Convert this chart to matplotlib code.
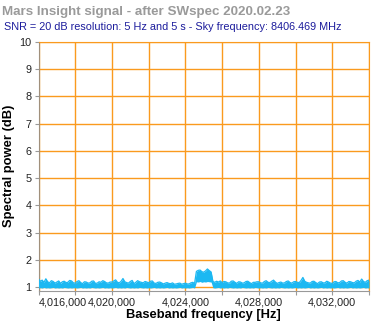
import numpy as np
import matplotlib
matplotlib.use("Agg")
import matplotlib.pyplot as plt
from matplotlib.transforms import ScaledTranslation

plt.rcParams['font.family'] = ['Liberation Sans', 'DejaVu Sans']

# Spectrum in 100 Hz bins from 4,016,000 Hz:
# top and bottom of the dense 5 Hz trace within each bin
freq_start = 4016000
freq_step = 100
peak_db = [
    1.30, 1.22, 1.26, 1.18, 1.31, 1.20, 1.16, 1.24, 1.21, 1.15, 1.19, 1.23, 1.14, 1.20, 1.22, 1.17, 1.18, 1.25, 1.23, 1.16,
    1.15, 1.21, 1.24, 1.17, 1.13, 1.20, 1.19, 1.15, 1.16, 1.22, 1.23, 1.14, 1.15, 1.20, 1.18, 1.24, 1.21, 1.16, 1.15, 1.19,
    1.19, 1.23, 1.27, 1.18, 1.16, 1.22, 1.32, 1.20, 1.17, 1.15, 1.21, 1.25, 1.13, 1.18, 1.24, 1.20, 1.18, 1.16, 1.21, 1.19,
    1.16, 1.22, 1.23, 1.15, 1.14, 1.18, 1.19, 1.16, 1.12, 1.15, 1.17, 1.14, 1.13, 1.16, 1.11, 1.12, 1.14, 1.15, 1.11, 1.13,
    1.15, 1.12, 1.12, 1.16, 1.18, 1.14, 1.58, 1.62, 1.63, 1.57, 1.55, 1.60, 1.67, 1.61, 1.56, 1.21, 1.18, 1.22, 1.19, 1.23,
    1.17, 1.21, 1.20, 1.16, 1.15, 1.22, 1.23, 1.18, 1.14, 1.20, 1.19, 1.15, 1.16, 1.21, 1.22, 1.17, 1.13, 1.18, 1.18, 1.20,
    1.20, 1.16, 1.15, 1.21, 1.24, 1.18, 1.17, 1.22, 1.26, 1.19, 1.14, 1.17, 1.19, 1.15, 1.16, 1.21, 1.23, 1.17, 1.15, 1.20,
    1.21, 1.18, 1.17, 1.25, 1.36, 1.22, 1.18, 1.16, 1.15, 1.21, 1.22, 1.17, 1.13, 1.19, 1.20, 1.16, 1.16, 1.22, 1.19, 1.15,
    1.14, 1.20, 1.21, 1.16, 1.17, 1.23, 1.24, 1.18, 1.15, 1.21, 1.20, 1.17, 1.16, 1.22, 1.25, 1.19, 1.30, 1.21, 1.18, 1.24,
    1.26,
]
floor_db = [
    0.97, 0.98, 0.97, 0.99, 0.97, 0.98, 0.97, 0.98, 0.99, 0.97, 0.98, 0.97, 0.98, 0.97, 0.99, 0.98, 0.97, 0.98, 0.97, 0.98,
    0.98, 0.97, 0.98, 0.99, 0.97, 0.98, 0.97, 0.98, 0.97, 0.99, 0.98, 0.97, 0.98, 0.97, 0.98, 0.99, 0.97, 0.98, 0.97, 0.98,
    0.97, 0.98, 0.99, 0.97, 0.98, 0.97, 0.98, 0.97, 0.99, 0.98, 0.97, 0.98, 0.97, 0.98, 0.97, 0.99, 0.98, 0.97, 0.98, 0.97,
    0.98, 0.97, 0.98, 0.99, 0.97, 0.98, 0.97, 0.98, 0.97, 0.98, 0.99, 0.97, 0.98, 0.97, 0.98, 0.97, 0.98, 0.99, 0.97, 0.98,
    0.97, 0.98, 0.97, 0.98, 0.99, 0.97, 1.20, 1.19, 1.21, 1.18, 1.20, 1.19, 1.21, 1.20, 1.19, 0.98, 0.97, 0.98, 0.99, 0.97,
    0.98, 0.97, 0.98, 0.97, 0.99, 0.98, 0.97, 0.98, 0.97, 0.98, 0.97, 0.99, 0.98, 0.97, 0.98, 0.97, 0.98, 0.97, 0.99, 0.98,
    0.97, 0.98, 0.97, 0.98, 0.97, 0.99, 0.98, 0.97, 0.98, 0.97, 0.98, 0.97, 0.99, 0.98, 0.97, 0.98, 0.97, 0.98, 0.97, 0.98,
    0.99, 0.97, 0.98, 0.97, 0.98, 0.97, 0.98, 0.99, 0.97, 0.98, 0.97, 0.98, 0.97, 0.98, 0.99, 0.97, 0.98, 0.97, 0.98, 0.97,
    0.98, 0.97, 0.98, 0.99, 0.97, 0.98, 0.97, 0.98, 0.97, 0.98, 0.99, 0.97, 0.98, 0.97, 0.98, 0.97, 0.98, 0.99, 0.97, 0.98,
    0.97,
]
freq_hz = freq_start + freq_step * np.arange(len(peak_db))

x_ticks = np.arange(4016000, 4034001, 2000)
x_labelled = [4016000, 4020000, 4024000, 4028000, 4032000]
y_ticks = list(range(1, 11))

fig = plt.figure(figsize=(3.74, 3.27), dpi=100)
ax = fig.add_axes([38.5 / 374, 1 - 290.5 / 327, (369 - 38.5) / 374, (290.5 - 42) / 327])

blue = '#1cb8f2'
ax.fill_between(freq_hz, floor_db, peak_db, color=blue, lw=0, zorder=3)
ax.plot(freq_hz, peak_db, color=blue, lw=0.9, zorder=3)

ax.set_xlim(4016000, 4034000)
ax.set_ylim(0.88, 10)

orange = '#fa9a1e'
ax.set_xticks(x_ticks)
ax.set_xticklabels(['{:,}'.format(t) if t in x_labelled else '' for t in x_ticks])
# first label sits inside the plot, starting just right of the axis
first = ax.get_xticklabels()[0]
first.set_horizontalalignment('left')
first.set_transform(first.get_transform() + ScaledTranslation(2 / 100, 0, fig.dpi_scale_trans))
ax.set_yticks(y_ticks)
ax.grid(True, color=orange, lw=1.0, zorder=1)
ax.set_axisbelow(True)

for side in ['top', 'right']:
    ax.spines[side].set_color(orange)
ax.spines['left'].set_color('#a0907c')
ax.spines['bottom'].set_color('#999999')
ax.tick_params(axis='both', colors='#999999', length=3, labelsize=7.8, labelcolor='#222222', pad=2)

ax.set_xlabel('Baseband frequency [Hz]', fontsize=9.3, fontweight='bold', labelpad=1)
ax.set_ylabel('Spectral power (dB)', fontsize=9.4, fontweight='bold', labelpad=3)

fig.text(2 / 374, 1 - 12 / 327, 'Mars Insight signal - after SWspec 2020.02.23',
         fontsize=9.6, fontweight='bold', color='#9a9a9a', va='center', ha='left')
fig.text(4 / 374, 1 - 26.5 / 327, 'SNR = 20 dB resolution: 5 Hz and 5 s - Sky frequency: 8406.469 MHz',
         fontsize=7.8, color='#1c1c9c', va='center', ha='left')

fig.savefig('out.png', dpi=100)
